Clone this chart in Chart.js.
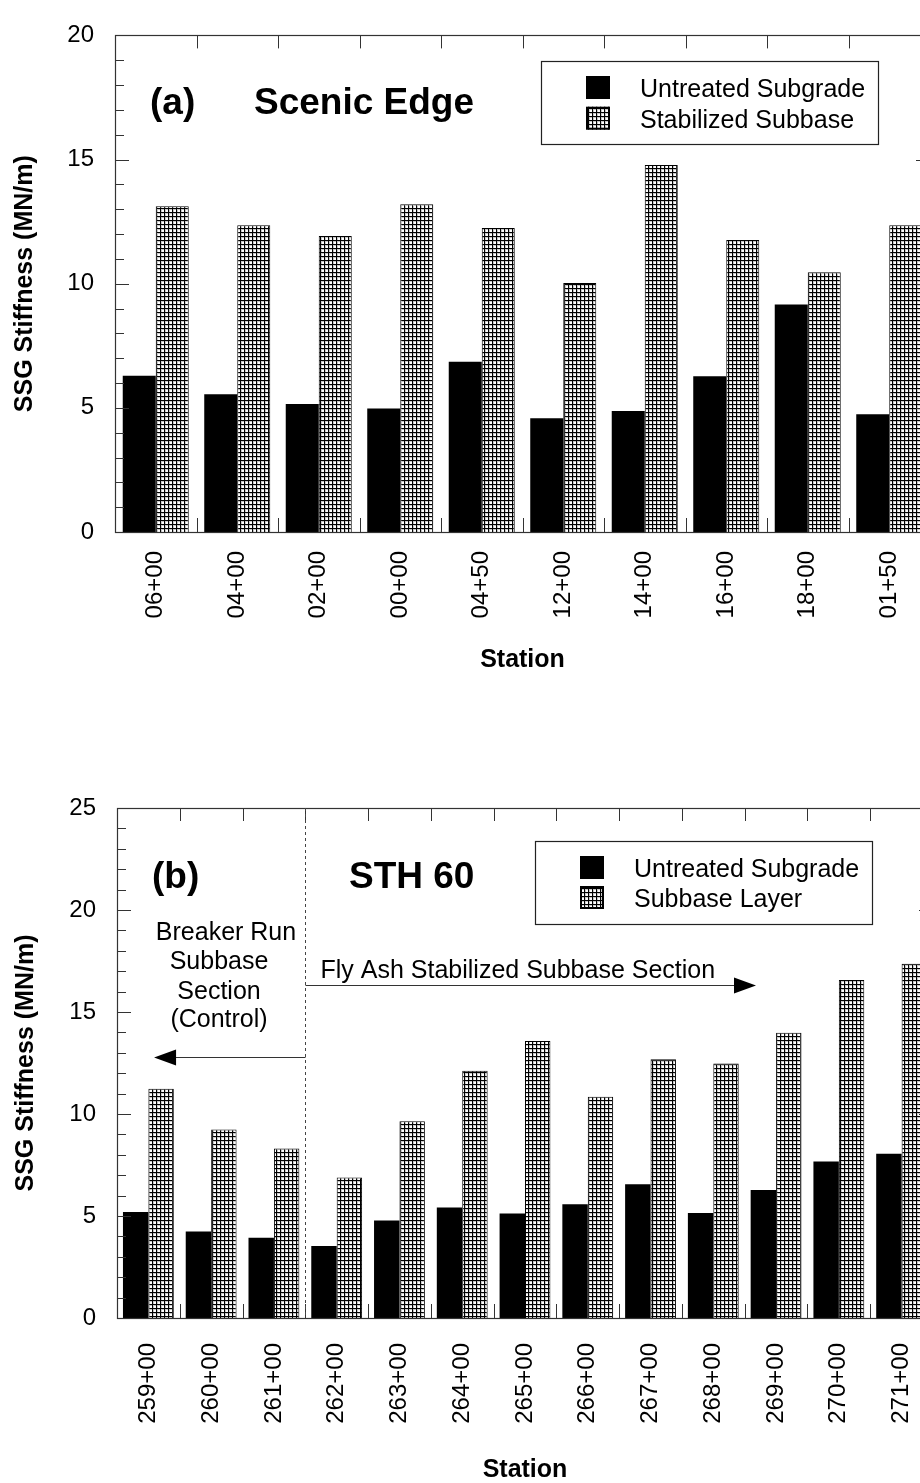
<!DOCTYPE html>
<html>
<head>
<meta charset="utf-8">
<script src="https://cdn.jsdelivr.net/npm/chart.js@4/dist/chart.umd.min.js"></script>
<style>
  html, body { margin: 0; padding: 0; background: #fff; overflow: hidden; width: 920px; height: 1483px; }
  canvas { position: absolute; left: 0; }
  #chartA { top: 0; }
  #chartB { top: 740px; }
</style>
</head>
<body>
<canvas id="chartA" width="960" height="700"></canvas>
<canvas id="chartB" width="960" height="760"></canvas>
<script>
// (a) Scenic Edge – SSG stiffness per station (MN/m)
const stationsA   = ['06+00', '04+00', '02+00', '00+00', '04+50', '12+00', '14+00', '16+00', '18+00', '01+50'];
const untreatedA  = [6.29, 5.55, 5.16, 4.97, 6.86, 4.58, 4.87, 6.27, 9.16, 4.74];
const stabilizedA = [13.12, 12.35, 11.92, 13.20, 12.24, 10.03, 14.78, 11.76, 10.46, 12.35];
const yTicksA     = { min: 0, max: 20, step: 1, labelEvery: 5 };

// (b) STH 60 – SSG stiffness per station (MN/m)
const stationsB   = ['259+00', '260+00', '261+00', '262+00', '263+00', '264+00', '265+00',
                     '266+00', '267+00', '268+00', '269+00', '270+00', '271+00'];
const untreatedB  = [5.19, 4.24, 3.93, 3.53, 4.78, 5.42, 5.12, 5.58, 6.56, 5.15, 6.28, 7.67, 8.05];
const subbaseB    = [11.24, 9.24, 8.31, 6.89, 9.64, 12.12, 13.58, 10.84, 12.68, 12.48, 13.98, 16.57, 17.36];
const yTicksB     = { min: 0, max: 25, step: 1, labelEvery: 5 };

// Section boundary on STH 60 (between 261+00 and 262+00) and the section arrows
const sectionSplit   = 2.5;   // category position of the boundary
const controlArrow   = { y: 12.8, tip: 0.09 };
const flyAshArrow    = { y: 16.33, tip: 9.68 };
const controlLabel   = ['Breaker Run', 'Subbase', 'Section', '(Control)'];
const flyAshLabel    = 'Fly Ash Stabilized Subbase Section';

const FONT = '"Liberation Sans", Arial, Helvetica, sans-serif';
const INK = '#000';
const AXIS = '#333';

// Fine cross-hatch used for the subbase bars
function gridPattern() {
  const c = document.createElement('canvas');
  c.width = 4; c.height = 4;
  const g = c.getContext('2d');
  g.fillStyle = '#fff'; g.fillRect(0, 0, 4, 4);
  g.fillStyle = '#c8c8c8'; g.fillRect(0, 1, 4, 1); g.fillRect(1, 0, 1, 4);
  g.fillStyle = '#000'; g.fillRect(0, 0, 4, 1); g.fillRect(0, 0, 1, 4);
  return g.createPattern(c, 'repeat');
}

// Plot frame with inward-pointing ticks on all four sides
const framePlugin = {
  id: 'frame',
  afterDatasetsDraw(chart, args, opts) {
    const { ctx, chartArea: a, scales: { x, y } } = chart;
    ctx.save();
    ctx.strokeStyle = AXIS;
    ctx.lineWidth = 1;
    ctx.beginPath();
    y.ticks.forEach(t => {
      const py = Math.round(y.getPixelForValue(t.value)) + 0.5;
      const len = t.value % opts.major === 0 ? 14 : 9;
      ctx.moveTo(a.left, py); ctx.lineTo(a.left + len, py);
      ctx.moveTo(a.right, py); ctx.lineTo(a.right - len, py);
    });
    const n = x.getLabels().length;
    for (let i = 1; i < n; i++) {
      const px = Math.round(x.getPixelForValue(i - 0.5)) + 0.5;
      ctx.moveTo(px, a.top); ctx.lineTo(px, a.top + 13);
      ctx.moveTo(px, a.bottom); ctx.lineTo(px, a.bottom - 14);
    }
    ctx.stroke();
    ctx.lineWidth = 1.2;
    ctx.strokeRect(Math.round(a.left) + 0.5, Math.round(a.top) + 0.5,
                   Math.round(a.right - a.left), Math.round(a.bottom - a.top));
    ctx.restore();
  }
};

// Panel tag, site name and boxed legend inside the plot
const panelPlugin = {
  id: 'panel',
  afterDraw(chart, args, o) {
    const { ctx, chartArea: a } = chart;
    ctx.save();
    ctx.fillStyle = INK;
    ctx.textAlign = 'left';
    ctx.textBaseline = 'alphabetic';
    ctx.font = `bold 37px ${FONT}`;
    ctx.fillText(o.tag, a.left + o.tagX, a.top + o.titleY);
    ctx.fillText(o.title, a.left + o.titleX, a.top + o.titleY);

    const L = o.legend;
    const bx = Math.round(a.left + L.x), by = Math.round(a.top + L.y);
    ctx.strokeStyle = '#222';
    ctx.lineWidth = 1.2;
    ctx.strokeRect(bx + 0.5, by + 0.5, L.w, L.h);
    ctx.font = `25px ${FONT}`;
    chart.data.datasets.forEach((ds, i) => {
      const sy = by + 15 + i * L.gap;
      const sx = bx + 45;
      ctx.fillStyle = ds.backgroundColor;
      ctx.fillRect(sx, sy, 24, 23);
      if (ds.borderWidth) {
        ctx.strokeStyle = '#000';
        ctx.lineWidth = 2;
        ctx.strokeRect(sx + 1, sy + 1, 22, 21);
      }
      ctx.fillStyle = INK;
      ctx.fillText(ds.label, bx + 99, by + 36 + i * L.gap);
    });
    ctx.restore();
  }
};

// Section boundary, labels and arrows for STH 60
const sectionPlugin = {
  id: 'sections',
  afterDatasetsDraw(chart) {
    const { ctx, chartArea: a, scales: { x, y } } = chart;
    const xs = Math.round(x.getPixelForValue(sectionSplit)) + 0.5;
    ctx.save();
    ctx.strokeStyle = '#444';
    ctx.lineWidth = 1;
    ctx.setLineDash([3, 3]);
    ctx.beginPath();
    ctx.moveTo(xs, a.top); ctx.lineTo(xs, a.bottom);
    ctx.stroke();
    ctx.setLineDash([]);

    const arrow = (y0, tipX) => {
      const yy = Math.round(y.getPixelForValue(y0)) + 0.5;
      const dir = tipX > xs ? 1 : -1;
      ctx.strokeStyle = '#333';
      ctx.beginPath();
      ctx.moveTo(xs, yy); ctx.lineTo(tipX - dir * 20, yy);
      ctx.stroke();
      ctx.fillStyle = '#000';
      ctx.beginPath();
      ctx.moveTo(tipX, yy);
      ctx.lineTo(tipX - dir * 22, yy - 8);
      ctx.lineTo(tipX - dir * 22, yy + 8);
      ctx.closePath();
      ctx.fill();
    };
    arrow(controlArrow.y, x.getPixelForValue(controlArrow.tip));
    arrow(flyAshArrow.y, x.getPixelForValue(flyAshArrow.tip));

    ctx.fillStyle = INK;
    ctx.font = `25px ${FONT}`;
    ctx.textBaseline = 'alphabetic';
    ctx.textAlign = 'center';
    const centers = [109, 102, 102, 102];
    const lines = [131.7, 161, 191, 218.6];
    controlLabel.forEach((t, i) => ctx.fillText(t, a.left + centers[i], a.top + lines[i]));
    ctx.textAlign = 'left';
    ctx.fillText(flyAshLabel, xs + 15, a.top + 170);
    ctx.restore();
  }
};

function makeChart(id, cfg) {
  return new Chart(document.getElementById(id), {
    type: 'bar',
    data: {
      labels: cfg.labels,
      datasets: [
        { label: 'Untreated Subgrade', data: cfg.untreated, backgroundColor: '#000', borderWidth: 0 },
        { label: cfg.secondLabel, data: cfg.second, backgroundColor: gridPattern(),
          borderColor: '#000', borderWidth: 1 }
      ]
    },
    options: {
      responsive: false,
      animation: false,
      devicePixelRatio: 1,
      layout: { padding: cfg.padding },
      datasets: { bar: { categoryPercentage: 0.81, barPercentage: 1.0 } },
      plugins: {
        legend: { display: false },
        tooltip: { enabled: false },
        frame: { major: cfg.yTicks.labelEvery },
        panel: cfg.panel
      },
      scales: {
        x: {
          grid: { display: false, drawTicks: false },
          border: { display: false },
          ticks: {
            color: INK, font: { family: FONT, size: 24 },
            minRotation: 90, maxRotation: 90, autoSkip: false, padding: cfg.xPad
          },
          title: {
            display: true, text: 'Station', color: INK,
            font: { family: FONT, size: 25, weight: 'bold' },
            padding: { top: 0, bottom: cfg.xTitlePad }
          },
          afterFit(s) { s.height = cfg.xHeight; }
        },
        y: {
          min: cfg.yTicks.min, max: cfg.yTicks.max,
          grid: { display: false, drawTicks: false },
          border: { display: false },
          ticks: {
            stepSize: cfg.yTicks.step, autoSkip: false, color: INK,
            font: { family: FONT, size: 24 }, padding: 21,
            callback: v => (v % cfg.yTicks.labelEvery === 0 ? v : '')
          },
          title: {
            display: true, text: 'SSG Stiffness (MN/m)', color: INK,
            font: { family: FONT, size: 25, weight: 'bold' },
            padding: { top: cfg.yTitlePad, bottom: 0 }
          },
          afterFit(s) { s.width = cfg.yWidth; }
        }
      }
    },
    plugins: cfg.extra
  });
}

makeChart('chartA', {
  labels: stationsA, untreated: untreatedA, second: stabilizedA,
  secondLabel: 'Stabilized Subbase', yTicks: yTicksA,
  padding: { top: 24, right: 30, bottom: 0, left: 0 },
  yWidth: 115, xHeight: 168, xPad: 19, xTitlePad: 25, yTitlePad: 10,
  panel: { tag: '(a)', title: 'Scenic Edge', tagX: 35, titleX: 139, titleY: 78.5,
           legend: { x: 426, y: 26, w: 337, h: 83, gap: 30.7 } },
  extra: [framePlugin, panelPlugin]
});

makeChart('chartB', {
  labels: stationsB, untreated: untreatedB, second: subbaseB,
  secondLabel: 'Subbase Layer', yTicks: yTicksB,
  padding: { top: 68, right: 27, bottom: 0, left: 0 },
  yWidth: 117, xHeight: 182, xPad: 25, xTitlePad: 15, yTitlePad: 11,
  panel: { tag: '(b)', title: 'STH 60', tagX: 35, titleX: 232, titleY: 80,
           legend: { x: 418, y: 33, w: 337, h: 83, gap: 30 } },
  extra: [framePlugin, panelPlugin, sectionPlugin]
});
</script>
</body>
</html>
